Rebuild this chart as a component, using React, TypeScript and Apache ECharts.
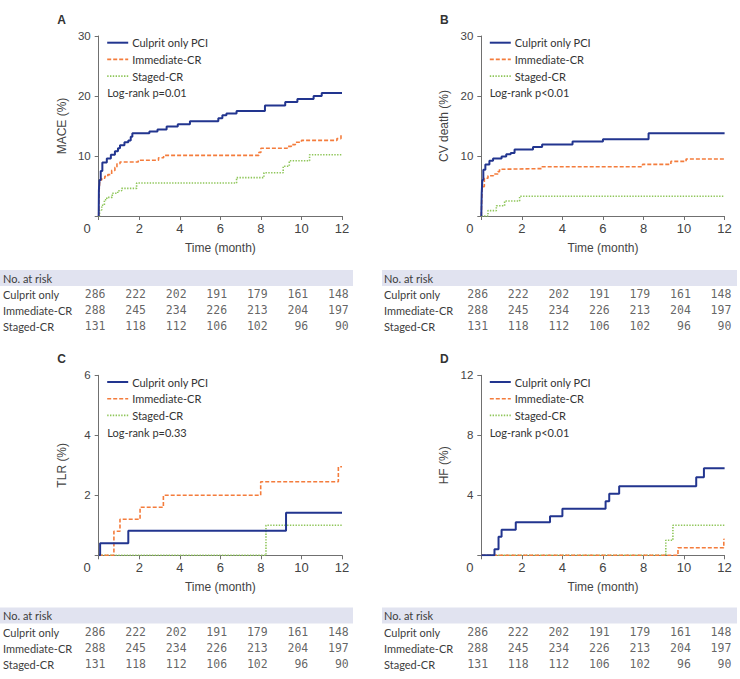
import React, { useEffect, useRef } from "react";
import * as echarts from "echarts";

// Kaplan-Meier cumulative incidence (%) as [month, value] change points
const maceCulprit: [number, number][] = [
  [0, 0], [0.01, 4.3], [0.04, 6.0], [0.1, 7.5], [0.18, 8.9], [0.4, 9.6], [0.6, 10.2], [0.8, 10.8],
  [0.95, 11.3], [1.05, 11.8], [1.27, 12.3], [1.46, 12.6], [1.58, 13.2], [1.66, 13.8], [2.5, 14.1],
  [2.9, 14.4], [3.35, 14.9], [3.9, 15.3], [4.5, 15.8], [5.9, 16.3], [6.1, 16.8], [6.3, 17.1],
  [6.8, 17.5], [8.2, 18.4], [9.2, 19.0], [9.8, 19.5], [10.6, 20.0], [11.0, 20.5], [12, 20.5],
];
const maceImmediate: [number, number][] = [
  [0, 0], [0.02, 4.0], [0.05, 6.0], [0.15, 6.3], [0.3, 6.6], [0.45, 6.9], [0.64, 7.6], [0.8, 8.1],
  [0.9, 8.7], [1.05, 9.0], [1.95, 9.3], [2.95, 9.7], [3.2, 10.1], [7.9, 10.6], [8.0, 11.3],
  [9.3, 11.6], [9.5, 11.9], [9.7, 12.3], [10.0, 12.6], [11.75, 12.9], [11.95, 13.5], [12, 13.5],
];
const maceStaged: [number, number][] = [
  [0, 0], [0.04, 1.0], [0.15, 1.8], [0.28, 2.7], [0.4, 3.1], [0.67, 3.8], [0.94, 4.2], [1.13, 4.6],
  [1.87, 5.5], [6.8, 6.4], [8.15, 7.2], [9.1, 8.3], [9.4, 9.2], [10.4, 10.2], [12, 10.2],
];

const cvCulprit: [number, number][] = [
  [0, 0], [0.02, 3.8], [0.05, 6.0], [0.1, 7.7], [0.2, 8.6], [0.4, 9.2], [0.58, 9.6], [1.0, 9.9],
  [1.23, 10.3], [1.45, 10.5], [1.64, 11.1], [2.55, 11.5], [3.0, 11.9], [4.5, 12.4], [6.0, 12.8],
  [8.25, 13.8], [12, 13.8],
];
const cvImmediate: [number, number][] = [
  [0, 0], [0.02, 2.7], [0.05, 4.9], [0.15, 6.3], [0.33, 6.7], [0.6, 7.0], [0.82, 7.4], [0.9, 7.8],
  [1.15, 7.9], [3.0, 8.2], [7.95, 8.6], [9.35, 9.1], [10.1, 9.5], [12, 9.5],
];
const cvStaged: [number, number][] = [
  [0, 0], [0.33, 0.9], [0.74, 1.7], [1.15, 2.5], [1.89, 3.3], [12, 3.3],
];

const tlrCulprit: [number, number][] = [[0, 0], [0.07, 0.4], [1.46, 0.82], [9.24, 1.42], [12, 1.42]];
const tlrImmediate: [number, number][] = [
  [0, 0], [0.75, 0.8], [1.05, 1.2], [2.04, 1.6], [3.19, 2.0], [7.99, 2.45], [11.82, 2.95], [12, 2.95],
];
const tlrStaged: [number, number][] = [[0, 0], [8.25, 1.0], [12, 1.0]];

const hfCulprit: [number, number][] = [
  [0, 0], [0.65, 0.4], [0.85, 1.24], [1.0, 1.7], [1.7, 2.2], [3.39, 2.6], [4.0, 3.1], [6.13, 3.6],
  [6.31, 4.1], [6.8, 4.6], [10.6, 5.2], [10.98, 5.8], [12, 5.8],
];
const hfImmediate: [number, number][] = [[0, 0], [9.7, 0.5], [11.96, 1.07], [12, 1.07]];
const hfStaged: [number, number][] = [[0, 0], [9.1, 1.0], [9.45, 2.0], [12, 2.0]];

// Numbers at risk
const MONTHS = [0, 2, 4, 6, 8, 10, 12];
const RISK_ROWS = ["Culprit only", "Immediate-CR", "Staged-CR"];
const riskCulprit = [286, 222, 202, 191, 179, 161, 148];
const riskImmediate = [288, 245, 234, 226, 213, 204, 197];
const riskStaged = [131, 118, 112, 106, 102, 96, 90];

const GROUPS = ["Culprit only PCI", "Immediate-CR", "Staged-CR"];
const PANEL_LETTERS = ["A", "B", "C", "D"];
const Y_TITLES = ["MACE (%)", "CV death (%)", "TLR (%)", "HF (%)"];
const Y_MAX = [30, 30, 6, 12];
const Y_STEP = [10, 10, 2, 4];
const LOG_RANK = ["Log-rank p=0.01", "Log-rank p<0.01", "Log-rank p=0.33", "Log-rank p<0.01"];

const PANEL_CURVES = [
  [maceCulprit, maceImmediate, maceStaged],
  [cvCulprit, cvImmediate, cvStaged],
  [tlrCulprit, tlrImmediate, tlrStaged],
  [hfCulprit, hfImmediate, hfStaged],
];
const RISK_TABLE = [riskCulprit, riskImmediate, riskStaged];

// Styling / layout
const COLORS = ["#22358f", "#f47c3c", "#8fc65a"];
const LINE_WIDTHS = [2, 1.6, 1.6];
const LINE_DASHES: any[] = ["solid", [4, 2], [1.4, 1.4]];
const PLOT_LEFT = [98.7, 481.3, 98.7, 481.3];
const PLOT_TOP = [36, 36, 375.3, 375.3];
const PLOT_W = 243.3;
const PLOT_H = 180;
const TABLE_TOP = [286, 286, 624, 624];
const BAND_Y = [270, 270, 607.5, 607.5];
const BAND_X = [0, 382, 0, 382];
const BAND_W = [353, 355, 353, 355];
const ROW_LABEL_X = [3, 384, 3, 384];

const AXIS_COLOR = "#707070";
const TEXT_COLOR = "#3c3c3c";
const SANS = "Liberation Sans";
const LABEL_FONT = "Lato";
const NUM_FONT = "DejaVu Sans Mono";

function buildOption() {
  const chartGrids: any[] = [];
  const tableGrids: any[] = [];
  const chartX: any[] = [];
  const tableX: any[] = [];
  const chartY: any[] = [];
  const tableY: any[] = [];
  const series: any[] = [];
  const graphic: any[] = [];

  for (let p = 0; p < 4; p++) {
    chartGrids.push({ left: PLOT_LEFT[p], top: PLOT_TOP[p], width: PLOT_W, height: PLOT_H });
    chartX.push({
      gridIndex: p,
      type: "value",
      min: 0,
      max: 12,
      interval: 2,
      name: "Time (month)",
      nameLocation: "middle",
      nameGap: 26,
      nameTextStyle: { fontFamily: SANS, fontSize: 12, color: "#444" },
      axisLine: { lineStyle: { color: AXIS_COLOR, width: 1 } },
      axisTick: { length: 4, lineStyle: { color: AXIS_COLOR } },
      splitLine: { show: false },
      axisLabel: {
        margin: 6,
        fontFamily: SANS,
        fontSize: 13,
        color: "#444",
        // the shared origin "0" sits left of the corner
        formatter: (v: number) => (v === 0 ? "{z|0}" : String(v)),
        rich: { z: { fontFamily: SANS, fontSize: 13, color: "#444", padding: [0, 23, 0, 0] } },
      },
    });
    chartY.push({
      gridIndex: p,
      type: "value",
      min: 0,
      max: Y_MAX[p],
      interval: Y_STEP[p],
      name: Y_TITLES[p],
      nameLocation: "middle",
      nameGap: 31,
      nameTextStyle: { fontFamily: SANS, fontSize: 12, color: "#444" },
      axisLine: { show: true, lineStyle: { color: AXIS_COLOR, width: 1 } },
      axisTick: { show: true, length: 4, lineStyle: { color: AXIS_COLOR } },
      splitLine: { show: false },
      axisLabel: {
        margin: 8,
        fontFamily: SANS,
        fontSize: 11.5,
        color: "#444",
        formatter: (v: number) => (v === 0 ? "" : String(v)),
      },
    });
    PANEL_CURVES[p].forEach((curve, g) => {
      series.push({
        type: "line",
        name: GROUPS[g],
        xAxisIndex: p,
        yAxisIndex: p,
        step: "end",
        symbol: "none",
        data: curve,
        color: COLORS[g],
        lineStyle: { color: COLORS[g], width: LINE_WIDTHS[g], type: LINE_DASHES[g] },
        z: 5 - g,
      });
    });

    // Key: sample line + label per group
    const keyX = PLOT_LEFT[p] + 8.5;
    GROUPS.forEach((name, g) => {
      const cy = PLOT_TOP[p] + 6.7 + g * 16.7;
      graphic.push({
        type: "line",
        shape: { x1: keyX, y1: cy, x2: keyX + 21, y2: cy },
        style: {
          stroke: COLORS[g],
          lineWidth: LINE_WIDTHS[g],
          lineDash: LINE_DASHES[g] === "solid" ? null : LINE_DASHES[g],
        },
      });
      graphic.push({
        type: "text",
        x: keyX + 25,
        y: cy,
        style: {
          text: name,
          font: `11px "${LABEL_FONT}"`,
          fill: "#333",
          align: "left",
          verticalAlign: "middle",
        },
      });
    });
    graphic.push({
      type: "text",
      x: keyX,
      y: PLOT_TOP[p] + 56.7,
      style: {
        text: LOG_RANK[p],
        font: `11px "${LABEL_FONT}"`,
        fill: "#333",
        align: "left",
        verticalAlign: "middle",
      },
    });
    graphic.push({
      type: "text",
      x: PLOT_LEFT[p] - 37,
      y: PLOT_TOP[p] - 16,
      style: {
        text: PANEL_LETTERS[p],
        font: `bold 12px "${SANS}"`,
        fill: "#333",
        align: "center",
        verticalAlign: "middle",
      },
    });

    // Number-at-risk table
    graphic.push({
      type: "rect",
      z: -1,
      shape: { x: BAND_X[p], y: BAND_Y[p], width: BAND_W[p], height: 16 },
      style: { fill: "#e1e3f0" },
    });
    graphic.push({
      type: "text",
      x: ROW_LABEL_X[p],
      y: BAND_Y[p] + 8,
      style: {
        text: "No. at risk",
        font: `11px "${LABEL_FONT}"`,
        fill: TEXT_COLOR,
        align: "left",
        verticalAlign: "middle",
      },
    });
    const t = 4 + p;
    tableGrids.push({ left: PLOT_LEFT[p], top: TABLE_TOP[p], width: PLOT_W, height: 48 });
    tableX.push({ gridIndex: t, type: "value", min: 0, max: 12, show: false });
    tableY.push({
      gridIndex: t,
      type: "category",
      inverse: true,
      data: RISK_ROWS,
      axisLine: { show: false },
      axisTick: { show: false },
      splitLine: { show: false },
      axisLabel: {
        align: "left",
        margin: PLOT_LEFT[p] - ROW_LABEL_X[p],
        fontFamily: LABEL_FONT,
        fontSize: 11,
        color: TEXT_COLOR,
      },
    });
    const pts: any[] = [];
    RISK_TABLE.forEach((row, r) => {
      row.forEach((n, i) => pts.push([MONTHS[i], RISK_ROWS[r], n]));
    });
    series.push({
      type: "scatter",
      xAxisIndex: t,
      yAxisIndex: t,
      symbolSize: 0,
      silent: true,
      data: pts,
      label: {
        show: true,
        position: "inside",
        align: "right",
        verticalAlign: "middle",
        offset: [6.8, 0],
        fontFamily: NUM_FONT,
        fontSize: 11.5,
        color: TEXT_COLOR,
        formatter: (d: any) => String(d.value[2]),
      },
    });
  }

  return {
    animation: false,
    backgroundColor: "#ffffff",
    grid: [...chartGrids, ...tableGrids],
    xAxis: [...chartX, ...tableX],
    yAxis: [...chartY, ...tableY],
    series,
    graphic,
  };
}

export default function App() {
  const ref = useRef<HTMLDivElement>(null);
  useEffect(() => {
    if (!ref.current) return;
    const chart = echarts.init(ref.current, undefined, { renderer: "svg" });
    chart.setOption(buildOption() as any);
    return () => chart.dispose();
  }, []);
  return (
    <div
      ref={ref}
      style={{ position: "fixed", left: 0, top: 0, width: 740, height: 679, background: "#fff" }}
    />
  );
}
